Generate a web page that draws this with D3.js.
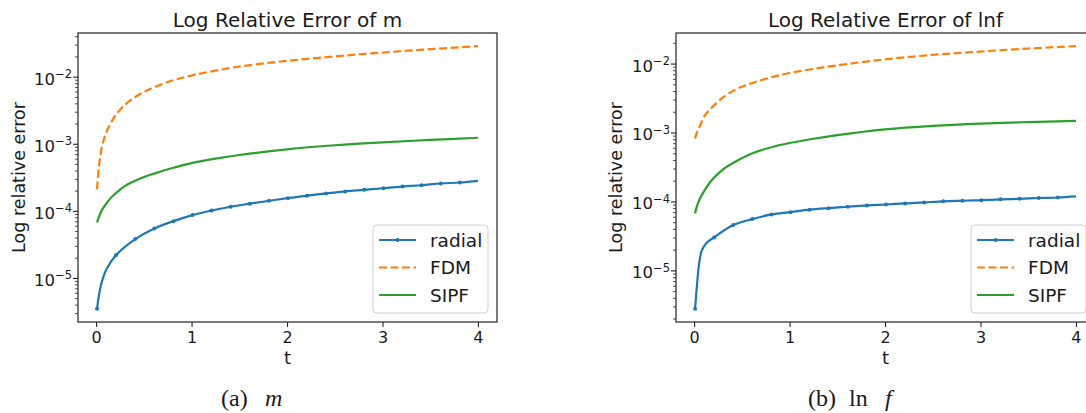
<!DOCTYPE html>
<html lang="en">
<head>
  <meta charset="UTF-8">
  <title>Log Relative Error</title>
  <style>
    html, body { margin: 0; padding: 0; background: #fff; }
    #main { width: 1086px; height: 413px; overflow: hidden; }
    text { font-family: "DejaVu Sans", sans-serif; fill: #1a1a1a; }
    .caption text, text.caption { font-family: "Liberation Serif", "DejaVu Serif", serif; }
  </style>
</head>
<body>
  <div id="main"></div>
  <script src="https://d3js.org/d3.v7.min.js"></script>
  <script>
    // time grid shared by FDM and SIPF curves
    const tGrid = [0.01, 0.03, 0.06, 0.1, 0.15, 0.2, 0.3, 0.45, 0.6, 0.8, 1.0, 1.25, 1.5, 2.0, 2.5, 3.0, 3.5, 4.0];
    // radial: markers every 0.2 starting at 0.01
    const markT = [0.01, 0.21, 0.41, 0.61, 0.81, 1.01, 1.21, 1.41, 1.61, 1.81, 2.01, 2.21, 2.41, 2.61, 2.81, 3.01, 3.21, 3.41, 3.61, 3.81];

    // (a) m
    const tRadialM = [0.01, 0.05, 0.11, 0.21, 0.41, 0.61, 0.81, 1.01, 1.21, 1.41, 1.61, 1.81, 2.01, 2.21, 2.41, 2.61, 2.81, 3.01, 3.21, 3.41, 3.61, 3.81, 4.0];
    const radialM = [3.52e-6, 7.83e-6, 1.38e-5, 2.23e-5, 3.86e-5, 5.57e-5, 7.14e-5, 8.79e-5, 1.03e-4, 1.17e-4, 1.30e-4, 1.44e-4, 1.57e-4, 1.71e-4, 1.85e-4, 1.98e-4, 2.09e-4, 2.21e-4, 2.34e-4, 2.45e-4, 2.60e-4, 2.69e-4, 2.85e-4];
    const fdmM = [2.14e-4, 4.68e-4, 9.02e-4, 1.41e-3, 2.02e-3, 2.66e-3, 3.85e-3, 5.47e-3, 7.00e-3, 8.91e-3, 1.06e-2, 1.25e-2, 1.44e-2, 1.75e-2, 2.04e-2, 2.33e-2, 2.61e-2, 2.90e-2];
    const sipfM = [6.84e-5, 8.30e-5, 1.04e-4, 1.26e-4, 1.56e-4, 1.83e-4, 2.38e-4, 3.04e-4, 3.62e-4, 4.42e-4, 5.23e-4, 6.10e-4, 6.92e-4, 8.41e-4, 9.66e-4, 1.07e-3, 1.16e-3, 1.25e-3];

    // (b) ln f
    const tRadialF = [0.01, 0.03, 0.05, 0.08, 0.13, 0.21, 0.41, 0.61, 0.81, 1.01, 1.21, 1.41, 1.61, 1.81, 2.01, 2.21, 2.41, 2.61, 2.81, 3.01, 3.21, 3.41, 3.61, 3.81, 4.0];
    const radialF = [2.81e-6, 6.12e-6, 1.19e-5, 1.97e-5, 2.54e-5, 3.06e-5, 4.61e-5, 5.64e-5, 6.59e-5, 7.11e-5, 7.71e-5, 8.13e-5, 8.51e-5, 8.89e-5, 9.18e-5, 9.51e-5, 9.82e-5, 1.02e-4, 1.04e-4, 1.06e-4, 1.09e-4, 1.11e-4, 1.14e-4, 1.16e-4, 1.20e-4];
    const fdmF = [8.30e-4, 1.02e-3, 1.26e-3, 1.68e-3, 2.09e-3, 2.45e-3, 3.27e-3, 4.37e-3, 5.25e-3, 6.38e-3, 7.41e-3, 8.51e-3, 9.59e-3, 1.17e-2, 1.36e-2, 1.52e-2, 1.68e-2, 1.82e-2];
    const sipfF = [6.82e-5, 8.71e-5, 1.11e-4, 1.40e-4, 1.79e-4, 2.18e-4, 2.95e-4, 3.96e-4, 5.01e-4, 6.17e-4, 7.16e-4, 8.26e-4, 9.33e-4, 1.13e-3, 1.27e-3, 1.37e-3, 1.44e-3, 1.50e-3];

    const xTicks = [0, 1, 2, 3, 4];
    const seriesNames = ['radial', 'FDM', 'SIPF'];
    const colors = ['#1f77b4', '#ff7f0e', '#2ca02c'];

    const [width, height] = [1086, 413];
    const svg = d3.select('#main').append('svg')
      .attr('width', width)
      .attr('height', height)
      .attr('viewBox', `0 0 ${width} ${height}`)

    function drawPanel(p) {
      const g = svg.append('g')
      const plotW = 419, plotH = 289
      const x0 = p.left, y0 = 33

      // matplotlib-like 5% margins
      const tAll = p.tRadial.concat(tGrid)
      const tExt = d3.extent(tAll)
      const tPad = (tExt[1] - tExt[0]) * 0.05
      const xScale = d3.scaleLinear()
        .domain([tExt[0] - tPad, tExt[1] + tPad])
        .range([x0, x0 + plotW])

      const vAll = p.radial.concat(p.fdm, p.sipf)
      const lo = Math.log10(d3.min(vAll)), hi = Math.log10(d3.max(vAll))
      const lPad = (hi - lo) * 0.05
      const yScale = d3.scaleLog()
        .domain([Math.pow(10, lo - lPad), Math.pow(10, hi + lPad)])
        .range([y0 + plotH, y0])

      const line = d3.line()
        .x(d => xScale(d[0]))
        .y(d => yScale(d[1]))
        .curve(d3.curveCatmullRom.alpha(0.5))

      const radialPts = p.tRadial.map((t, i) => [t, p.radial[i]])
      const fdmPts = tGrid.map((t, i) => [t, p.fdm[i]])
      const sipfPts = tGrid.map((t, i) => [t, p.sipf[i]])

      g.append('path').attr('d', line(radialPts))
        .attr('fill', 'none').attr('stroke', colors[0]).attr('stroke-width', 2.2)
      g.selectAll('circle.mk')
        .data(radialPts.filter(d => markT.some(m => Math.abs(m - d[0]) < 1e-9)))
        .join('circle')
        .attr('cx', d => xScale(d[0]))
        .attr('cy', d => yScale(d[1]))
        .attr('r', 2)
        .attr('fill', colors[0])
      g.append('path').attr('d', line(fdmPts))
        .attr('fill', 'none').attr('stroke', colors[1]).attr('stroke-width', 2.2)
        .attr('stroke-dasharray', '8,3.5')
      g.append('path').attr('d', line(sipfPts))
        .attr('fill', 'none').attr('stroke', colors[2]).attr('stroke-width', 2.2)

      // frame
      g.append('rect')
        .attr('x', x0).attr('y', y0).attr('width', plotW).attr('height', plotH)
        .attr('fill', 'none').attr('stroke', '#222').attr('stroke-width', 1.2)

      // x axis
      const xAxis = g.append('g').attr('transform', `translate(0 ${y0 + plotH})`)
        .call(d3.axisBottom(xScale).tickValues(xTicks).tickSize(5).tickPadding(5).tickFormat(d3.format('d')))
      xAxis.select('.domain').remove()
      xAxis.selectAll('line').attr('stroke', '#222').attr('stroke-width', 1.1)
      xAxis.selectAll('text').attr('font-size', 16).attr('fill', '#1a1a1a')
        .attr('font-family', '"DejaVu Sans", sans-serif')

      // y axis (log) with minor ticks
      const [dLo, dHi] = yScale.domain()
      const majors = [], minors = []
      for (let e = Math.floor(Math.log10(dLo)); e <= Math.ceil(Math.log10(dHi)); e++) {
        for (let k = 1; k < 10; k++) {
          const v = k * Math.pow(10, e)
          if (v < dLo || v > dHi) continue
          if (k === 1) majors.push(e); else minors.push(v)
        }
      }
      g.selectAll('line.minor').data(minors).join('line')
        .attr('x1', x0 - 3).attr('x2', x0)
        .attr('y1', d => yScale(d)).attr('y2', d => yScale(d))
        .attr('stroke', '#222').attr('stroke-width', 0.8)
      g.selectAll('line.major').data(majors).join('line')
        .attr('x1', x0 - 5).attr('x2', x0)
        .attr('y1', d => yScale(Math.pow(10, d))).attr('y2', d => yScale(Math.pow(10, d)))
        .attr('stroke', '#222').attr('stroke-width', 1.1)
      const yl = g.selectAll('text.ytick').data(majors).join('text')
        .attr('class', 'ytick')
        .attr('text-anchor', 'end')
        .attr('x', x0 - 6)
        .attr('y', d => yScale(Math.pow(10, d)) + 7.5)
      yl.append('tspan').attr('font-size', 16.5).text('10')
      yl.append('tspan').attr('font-size', 11.5).attr('dy', -6.5).text(d => '\u2212' + Math.abs(d))

      // titles and labels
      g.append('text').attr('x', x0 + plotW / 2).attr('y', 26.5)
        .attr('text-anchor', 'middle').attr('font-size', 20).text(p.title)
      g.append('text').attr('x', x0 + plotW / 2).attr('y', 364)
        .attr('text-anchor', 'middle').attr('font-size', 18).text('t')
      g.append('text')
        .attr('transform', `translate(${p.ylabX} ${y0 + plotH / 2}) rotate(-90)`)
        .attr('text-anchor', 'middle').attr('font-size', 17.5).text('Log relative error')

      // legend
      const lg = g.append('g').attr('transform', `translate(${p.legX} 225)`)
      lg.append('rect').attr('width', 115).attr('height', 88).attr('rx', 4)
        .attr('fill', 'rgba(255,255,255,0.8)').attr('stroke', '#d0d0d0').attr('stroke-width', 1)
      seriesNames.forEach((name, i) => {
        const yy = 15 + i * 27.5
        const ln = lg.append('line').attr('x1', 6).attr('x2', 43).attr('y1', yy).attr('y2', yy)
          .attr('stroke', colors[i]).attr('stroke-width', 2.2)
        if (i === 1) ln.attr('stroke-dasharray', '8,3.5')
        if (i === 0) lg.append('circle').attr('cx', 24.5).attr('cy', yy).attr('r', 2).attr('fill', colors[0])
        lg.append('text').attr('x', 57).attr('y', yy + 6.5).attr('font-size', 18.5).text(name)
      })
    }

    drawPanel({ left: 78, title: 'Log Relative Error of m', tRadial: tRadialM, radial: radialM, fdm: fdmM, sipf: sipfM,
      legX: 373, ylabX: 25 })
    drawPanel({ left: 676, title: 'Log Relative Error of lnf', tRadial: tRadialF, radial: radialF, fdm: fdmF, sipf: sipfF,
      legX: 971, ylabX: 622 })

    // captions
    const capA = svg.append('text').attr('class', 'caption').attr('y', 406).attr('font-size', 24)
    capA.append('tspan').attr('x', 221).text('(a)')
    capA.append('tspan').attr('x', 265).attr('font-style', 'italic').text('m')
    const capB = svg.append('text').attr('class', 'caption').attr('y', 406).attr('font-size', 24)
    capB.append('tspan').attr('x', 808).text('(b)')
    capB.append('tspan').attr('x', 849).text('ln')
    capB.append('tspan').attr('x', 885).attr('font-style', 'italic').text('f')
  </script>
</body>
</html>
